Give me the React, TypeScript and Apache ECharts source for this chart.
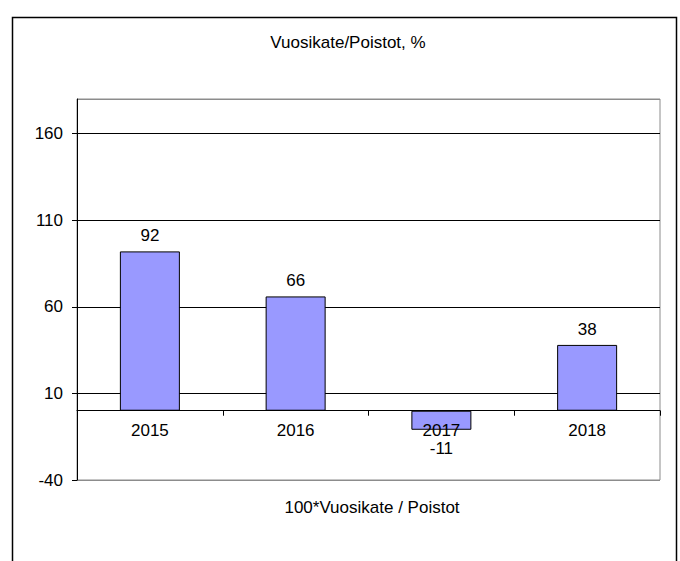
import React, { useEffect, useRef } from "react";
import * as echarts from "echarts";

const categories = ["2015", "2016", "2017", "2018"];
const values = [92, 66, -11, 38];
const titleText = "Vuosikate/Poistot, %";
const axisNameText = "100*Vuosikate / Poistot";

const Y_MIN = -40;
const Y_MAX = 180;

export default function App() {
  const ref = useRef<HTMLDivElement>(null);
  useEffect(() => {
    if (!ref.current) return;
    const chart = echarts.init(ref.current, null, { renderer: "svg" });
    const font = "'Liberation Sans', Arial, sans-serif";
    const gridTop = 99;
    const gridBottom = 81;
    const plotH = 561 - gridTop - gridBottom;
    const zeroOffset = (plotH * (0 - Y_MIN)) / (Y_MAX - Y_MIN);
    const fs = 17;
    chart.setOption({
      animation: false,
      backgroundColor: "#ffffff",
      textStyle: { fontFamily: font },
      graphic: [
        {
          type: "rect",
          shape: { x: 12.5, y: 17.5, width: 664, height: 560 },
          style: { fill: "none", stroke: "#000", lineWidth: 1.5 },
          silent: true,
        },
        {
          type: "text",
          x: 348,
          y: 42,
          style: {
            text: titleText,
            fill: "#000",
            font: fs + "px " + font,
            textAlign: "center",
            textVerticalAlign: "middle",
          },
        },
        {
          type: "text",
          x: 372,
          y: 507,
          style: {
            text: axisNameText,
            fill: "#000",
            font: fs + "px " + font,
            textAlign: "center",
            textVerticalAlign: "middle",
          },
        },
      ],
      grid: {
        left: 77,
        right: 20,
        top: gridTop,
        bottom: gridBottom,
        show: true,
        borderColor: "#8c8c8c",
        borderWidth: 1,
        containLabel: false,
      },
      xAxis: {
        type: "category",
        data: categories,
        offset: -zeroOffset,
        axisLine: { onZero: false, lineStyle: { color: "#000", width: 1 } },
        axisTick: { show: true, length: 5, lineStyle: { color: "#000" } },
        axisLabel: { color: "#000", fontSize: fs, lineHeight: 14, margin: 13, fontFamily: font },
        splitLine: { show: false },
        z: 5,
      },
      yAxis: {
        type: "value",
        min: Y_MIN,
        max: Y_MAX,
        interval: 50,
        axisLine: { show: true, lineStyle: { color: "#000", width: 1 } },
        axisTick: { show: true, length: 5, lineStyle: { color: "#000" } },
        axisLabel: { color: "#000", fontSize: fs, margin: 14, showMaxLabel: false, fontFamily: font },
        splitLine: {
          show: true,
          lineStyle: { color: ["#8c8c8c", "#000", "#000", "#000", "#000", "#8c8c8c"], width: 1 },
        },
      },
      series: [
        {
          type: "bar",
          barWidth: 60,
          data: values.map((v) =>
            v < 0
              ? { value: v, label: { position: "bottom", distance: 12, lineHeight: 14 } }
              : { value: v }
          ),
          itemStyle: { color: "#9999ff", borderColor: "#000", borderWidth: 1 },
          label: {
            show: true,
            position: "top",
            distance: 7,
            color: "#000",
            fontSize: fs,
            fontFamily: font,
          },
        },
      ],
    });
    return () => chart.dispose();
  }, []);
  return (
    <div
      ref={ref}
      style={{ position: "absolute", left: 0, top: 0, width: 680, height: 561 }}
    />
  );
}
